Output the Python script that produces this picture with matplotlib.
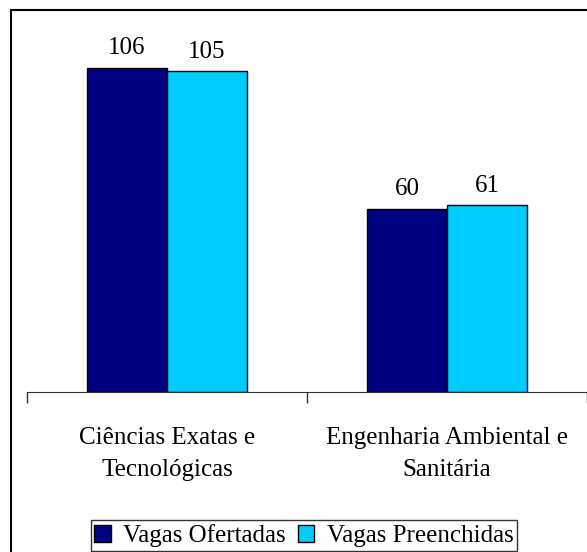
import matplotlib.pyplot as plt
import numpy as np
from matplotlib.patches import Rectangle

# dados
categorias = ['Ciências Exatas e\nTecnológicas', 'Engenharia Ambiental e\nSanitária']
vagas_ofertadas = [106, 60]
vagas_preenchidas = [105, 61]
series = ['Vagas Ofertadas', 'Vagas Preenchidas']

cor_ofertadas = '#000080'
cor_preenchidas = '#00CCFF'

plt.rcParams['font.family'] = ['Liberation Serif', 'DejaVu Serif']

fig = plt.figure(figsize=(5.87, 5.52), dpi=100)
ax = fig.add_axes([27 / 587, 1 - 392 / 552, 560 / 587, 367 / 552])

x = np.arange(len(categorias))
w = 80 / 280

b1 = ax.bar(x - w / 2, vagas_ofertadas, w, color=cor_ofertadas, edgecolor='black', linewidth=1, label=series[0])
b2 = ax.bar(x + w / 2, vagas_preenchidas, w, color=cor_preenchidas, edgecolor='black', linewidth=1, label=series[1])

ax.bar_label(b1, padding=6, fontsize=18)
ax.bar_label(b2, padding=6, fontsize=18)

ax.set_xlim(-0.5, len(categorias) - 0.5)
ax.set_ylim(0, 120)

# eixo x com marcas entre categorias
ax.set_xticks(np.arange(len(categorias) + 1) - 0.5)
ax.set_xticklabels([])
ax.tick_params(axis='x', which='major', length=8, width=1, direction='out', color='#333333')
ax.set_xticks(x, minor=True)
ax.set_xticklabels(categorias, minor=True, fontsize=18, linespacing=1.6)
ax.tick_params(axis='x', which='minor', length=0, pad=25)
ax.set_yticks([])

for s in ['top', 'right', 'left']:
    ax.spines[s].set_visible(False)
ax.spines['bottom'].set_color('#333333')

leg = fig.legend(loc='center', bbox_to_anchor=(304 / 587, 1 - 535.5 / 552), ncol=2,
                 fontsize=18, frameon=True, fancybox=False, handlelength=0.65, handleheight=0.65,
                 handletextpad=0.5, columnspacing=0.5, borderpad=0.15, borderaxespad=0)
leg.get_frame().set_edgecolor('black')
leg.get_frame().set_linewidth(1)

# moldura
fig.patches.append(Rectangle((10.5 / 587, -0.1), 1.2, 1 - 9.5 / 552 + 0.1, transform=fig.transFigure,
                             fill=False, edgecolor='black', linewidth=1.5))

fig.savefig('out.png', dpi=100)
